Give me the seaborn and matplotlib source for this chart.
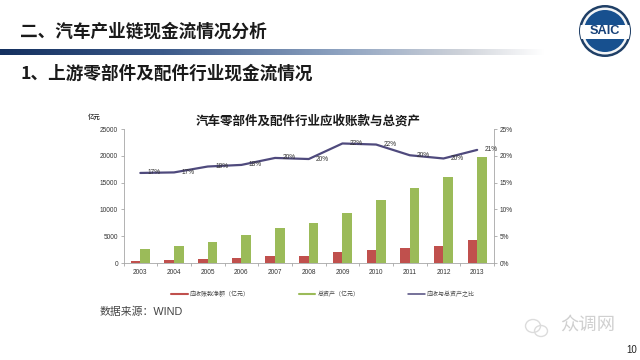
import numpy as np
import pandas as pd
import seaborn as sns
import matplotlib.pyplot as plt
from matplotlib.colors import LinearSegmentedColormap
from matplotlib.lines import Line2D
from matplotlib.patches import Circle, Ellipse, Rectangle

years = ["2003", "2004", "2005", "2006", "2007", "2008", "2009", "2010", "2011", "2012", "2013"]
receivable = [400, 500, 700, 950, 1300, 1350, 2100, 2500, 2800, 3150, 4200]
assets = [2650, 3150, 3950, 5250, 6600, 7500, 9300, 11700, 13900, 16100, 19700]
share = [16.8, 16.9, 18.0, 18.3, 19.6, 19.4, 22.3, 22.1, 20.1, 19.5, 21.1]
share_labels = ["17%", "17%", "18%", "18%", "20%", "20%", "22%", "22%", "20%", "20%", "21%"]
left_ticks = [0, 5000, 10000, 15000, 20000, 25000]
right_ticks = [0, 5, 10, 15, 20, 25]
names = ["应收账款净额（亿元）", "总资产（亿元）", "应收与总资产之比"]

RED, GREEN, PURPLE = "#c0504d", "#9bbb59", "#4f4a7d"
GREY = "#a6a6a6"

sns.set_theme(style="white")
plt.rcParams["font.family"] = ["Liberation Sans", "Noto Sans CJK SC", "DejaVu Sans"]
cjk = ["Noto Sans CJK SC", "DejaVu Sans"]

fig = plt.figure(figsize=(6.4, 3.6), dpi=100)

# slide background, coordinates in pixels
bg = fig.add_axes([0, 0, 1, 1])
bg.set_xlim(0, 640)
bg.set_ylim(360, 0)
bg.axis("off")

band = LinearSegmentedColormap.from_list(
    "band", [(0, "#14305f"), (0.3, "#3c5a8a"), (0.62, "#8da2c0"), (0.85, "#cfd3da"), (1, "#ffffff")])
bg.imshow(np.linspace(0, 1, 256)[None, :], cmap=band, extent=(0, 545, 55, 49), aspect="auto")
bg.set_xlim(0, 640)
bg.set_ylim(360, 0)

bg.text(20, 32, "二、汽车产业链现金流情况分析", family=cjk, fontsize=12.7, weight="bold",
        color="#1a1a1a", va="center")
bg.text(20, 74, "1、上游零部件及配件行业现金流情况", family=cjk, fontsize=12.7, weight="bold",
        color="#1a1a1a", va="center")
bg.text(308, 121, "汽车零部件及配件行业应收账款与总资产", family=cjk, fontsize=9, weight="bold",
        color="#1a1a1a", ha="center", va="center")
bg.text(88, 117, "亿元", family=cjk, fontsize=4.6, weight="bold", color="#333333", va="center")
bg.text(100, 312, "数据来源：WIND", fontsize=7.8, color="#444444", va="center")
bg.text(637, 350, "10", fontsize=7, color="#222222", ha="right", va="center")

# SAIC logo
bg.add_patch(Circle((605, 31), 26, fc="#1f3f66", ec="none"))
bg.add_patch(Circle((605, 31), 23.5, fc="#f2f4f6", ec="none"))
bg.add_patch(Circle((605, 31), 21, fc="#17508f", ec="none"))
strip = Rectangle((578, 24.5), 54, 14, fc="white", ec="none")
bg.add_patch(strip)
strip.set_clip_path(Circle((605, 31), 25, transform=bg.transData))
bg.text(605, 31.5, "SAIC", fontsize=9.2, weight="bold", color="#17427a", ha="center", va="center")

# watermark
bg.add_patch(Ellipse((533, 326), 15, 13, fc="none", ec="#dcdcdc", lw=1))
bg.add_patch(Ellipse((541, 331), 13, 11, fc="none", ec="#dcdcdc", lw=1))
bg.text(560, 325, "众调网", family=cjk, fontsize=13.2, color="#d0d0d0", va="center")

# chart
ax = fig.add_axes([123.5 / 640, 97 / 360, 370.5 / 640, 134 / 360])
ax.patch.set_alpha(0)
df = pd.DataFrame({"year": years * 2,
                   "value": receivable + assets,
                   "series": [names[0]] * len(years) + [names[1]] * len(years)})
sns.barplot(data=df, x="year", y="value", hue="series", palette=[RED, GREEN], width=0.57,
            saturation=1, linewidth=0, legend=False, ax=ax)
ax.set_xlim(-0.5, 10.5)
ax.set_ylim(0, 25000)
ax.set_xlabel("")
ax.set_ylabel("")
ax.set_yticks(left_ticks)
ax.set_xticks(range(len(years)))
ax.set_xticklabels(years)
ax.set_xticks(np.arange(-0.5, 11), minor=True)
ax.tick_params(axis="x", which="major", length=0, labelsize=4.7, labelcolor="#333333", pad=4, bottom=False)
ax.tick_params(axis="x", which="minor", length=2, width=0.6, color=GREY, bottom=True)
ax.tick_params(axis="y", length=2, width=0.6, color=GREY, labelsize=4.7, labelcolor="#333333", pad=2, left=True)

ax2 = ax.twinx()
ax2.patch.set_alpha(0)
sns.lineplot(x=np.arange(len(years)), y=share, color=PURPLE, linewidth=1.6, ax=ax2)
ax2.set_ylim(0, 25)
ax2.set_yticks(right_ticks)
ax2.set_yticklabels([f"{t}%" for t in right_ticks])
ax2.tick_params(axis="y", length=2, width=0.6, color=GREY, labelsize=4.7, labelcolor="#333333", pad=2, right=True)
for i, label in enumerate(share_labels):
    ax2.annotate(label, (i, share[i]), xytext=(10, 0), textcoords="offset points",
                 fontsize=4.7, color="#333333", ha="center", va="center")

for a in (ax, ax2):
    sns.despine(ax=a, top=True, left=False, right=False, bottom=False)
    for s in a.spines.values():
        s.set_color(GREY)
        s.set_linewidth(0.6)
ax.spines["right"].set_visible(False)
ax2.spines["left"].set_visible(False)
ax2.spines["bottom"].set_visible(False)

handles = [Line2D([], [], color=RED, lw=1.5), Line2D([], [], color=GREEN, lw=1.5),
           Line2D([], [], color=PURPLE, lw=1.1)]
leg = fig.legend(handles, names, ncol=3, frameon=False, loc="center",
                 bbox_to_anchor=(323 / 640, 1 - 294 / 360), fontsize=4.3, handlelength=2.8,
                 handletextpad=0.3, columnspacing=8.2, labelcolor="#444444")

fig.savefig("out.png", dpi=100)
